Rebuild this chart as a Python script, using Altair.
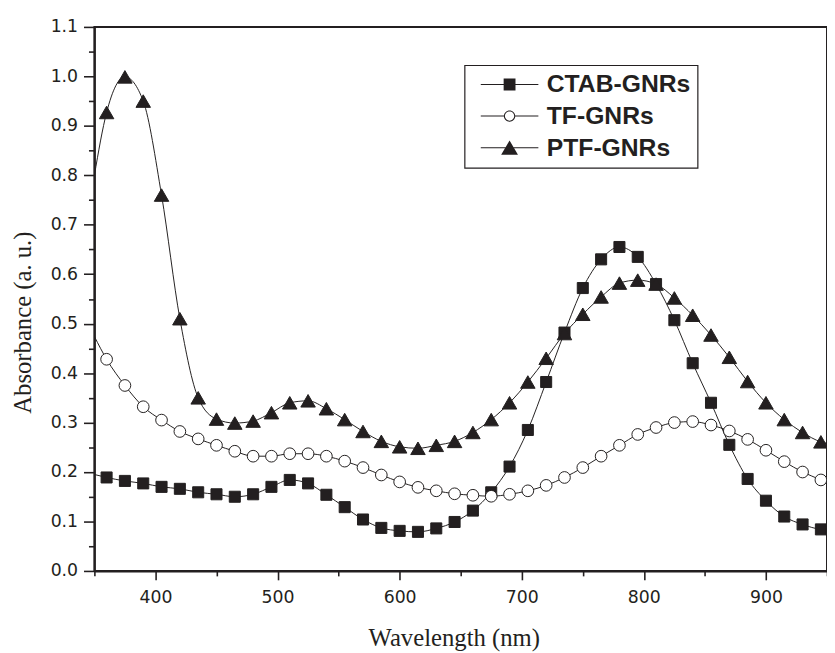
import altair as alt
import pandas as pd

INK = "#231f20"

series_names = ["CTAB-GNRs", "TF-GNRs", "PTF-GNRs"]

wavelength = [360, 375, 390, 405, 420, 435, 450, 465, 480, 495,
              510, 525, 540, 555, 570, 585, 600, 615, 630, 645,
              660, 675, 690, 705, 720, 735, 750, 765, 780, 795,
              810, 825, 840, 855, 870, 885, 900, 915, 930, 945]

ctab = [0.189, 0.182, 0.177, 0.170, 0.166, 0.159, 0.155, 0.150, 0.155, 0.170,
        0.184, 0.177, 0.154, 0.129, 0.104, 0.087, 0.081, 0.079, 0.086, 0.099,
        0.122, 0.159, 0.211, 0.285, 0.382, 0.482, 0.572, 0.630, 0.655, 0.635,
        0.580, 0.507, 0.420, 0.340, 0.255, 0.186, 0.142, 0.110, 0.094, 0.084]

tf = [0.428, 0.375, 0.332, 0.305, 0.282, 0.267, 0.254, 0.242, 0.232, 0.232,
      0.237, 0.237, 0.232, 0.222, 0.209, 0.194, 0.180, 0.169, 0.162, 0.156,
      0.153, 0.151, 0.155, 0.162, 0.173, 0.189, 0.209, 0.232, 0.254, 0.276,
      0.290, 0.300, 0.302, 0.295, 0.283, 0.266, 0.244, 0.221, 0.200, 0.184]

ptf = [0.927, 0.999, 0.950, 0.760, 0.510, 0.350, 0.307, 0.299, 0.303, 0.320,
       0.340, 0.344, 0.328, 0.306, 0.282, 0.262, 0.251, 0.248, 0.254, 0.262,
       0.280, 0.306, 0.340, 0.382, 0.430, 0.480, 0.519, 0.554, 0.582, 0.588,
       0.580, 0.552, 0.517, 0.477, 0.432, 0.383, 0.340, 0.306, 0.280, 0.261]

# curve ends at the axis limits (no marker there)
curve_ends_x = [350, 950]
ctab_ends = [0.195, 0.083]
tf_ends = [0.474, 0.178]
ptf_ends = [0.800, 0.258]

x_major = [400, 500, 600, 700, 800, 900]
x_minor = [350, 450, 550, 650, 750, 850, 950]
y_major = [0.0, 0.1, 0.2, 0.3, 0.4, 0.5, 0.6, 0.7, 0.8, 0.9, 1.0, 1.1]
y_minor = [0.05, 0.15, 0.25, 0.35, 0.45, 0.55, 0.65, 0.75, 0.85, 0.95, 1.05]

values_by_series = {"CTAB-GNRs": ctab, "TF-GNRs": tf, "PTF-GNRs": ptf}
ends_by_series = {"CTAB-GNRs": ctab_ends, "TF-GNRs": tf_ends, "PTF-GNRs": ptf_ends}

marker_rows = []
line_rows = []
for name in series_names:
    for w, v in zip(wavelength, values_by_series[name]):
        marker_rows.append({"series": name, "wavelength": w, "absorbance": v})
        line_rows.append({"series": name, "wavelength": w, "absorbance": v})
    for w, v in zip(curve_ends_x, ends_by_series[name]):
        line_rows.append({"series": name, "wavelength": w, "absorbance": v})
marker_df = pd.DataFrame(marker_rows)
line_df = pd.DataFrame(line_rows).sort_values(["series", "wavelength"])

x_scale = alt.Scale(domain=[350, 950], nice=False, zero=False)
y_scale = alt.Scale(domain=[0, 1.1], nice=False, zero=False)

TICK_FONT = "DejaVu Sans"
TICK_SIZE = 17.5
TITLE_SIZE = 25

x_major_axis = alt.Axis(
    orient="bottom", values=x_major, tickSize=9, tickWidth=1.6, tickColor=INK,
    domainColor=INK, domainWidth=2, labelFont=TICK_FONT, labelFontSize=TICK_SIZE,
    labelColor=INK, labelPadding=9, grid=False, zindex=1,
    title="Wavelength (nm)", titleFont="Liberation Serif", titleFontSize=TITLE_SIZE,
    titleFontWeight="normal", titleColor=INK, titleX=364, titleY=76,
    titleBaseline="alphabetic", titleAlign="center",
)
y_major_axis = alt.Axis(
    orient="left", values=y_major, format=".1f", tickSize=11, tickWidth=1.6,
    tickColor=INK, domainColor=INK, domainWidth=2, labelFont=TICK_FONT,
    labelFontSize=TICK_SIZE, labelColor=INK, labelPadding=6, grid=False, zindex=1,
    title="Absorbance (a. u.)", titleFont="Liberation Serif", titleFontSize=TITLE_SIZE,
    titleFontWeight="normal", titleColor=INK, titleAngle=270, titleX=-64.5,
    titleY=299, titleBaseline="alphabetic", titleAlign="center",
)
x_minor_axis = alt.Axis(
    orient="bottom", values=x_minor, tickSize=5, tickWidth=1.6, tickColor=INK,
    domain=False, labels=False, title=None, grid=False, zindex=1,
)
y_minor_axis = alt.Axis(
    orient="left", values=y_minor, tickSize=6, tickWidth=1.6, tickColor=INK,
    domain=False, labels=False, title=None, grid=False, zindex=1,
)

lines = alt.Chart(line_df).mark_line(
    interpolate="monotone", color=INK, strokeWidth=1, clip=True
).encode(
    x=alt.X("wavelength:Q", scale=x_scale, axis=x_major_axis),
    y=alt.Y("absorbance:Q", scale=y_scale, axis=y_major_axis),
    detail="series:N",
)

marker_style = {
    "CTAB-GNRs": ("square", INK, 125),
    "TF-GNRs": ("circle", "white", 140),
    "PTF-GNRs": ("triangle-up", INK, 215),
}

point_layers = []
for i, name in enumerate(series_names):
    shape, fill, size = marker_style[name]
    if i == 0:
        xa, ya = x_minor_axis, y_minor_axis
    else:
        xa, ya = None, None
    layer = alt.Chart(marker_df).transform_filter(
        alt.datum.series == name
    ).mark_point(
        shape=shape, filled=True, fill=fill, stroke=INK, strokeWidth=1,
        size=size, opacity=1, clip=True
    ).encode(
        x=alt.X("wavelength:Q", scale=x_scale, axis=xa),
        y=alt.Y("absorbance:Q", scale=y_scale, axis=ya),
    )
    point_layers.append(layer)

# legend symbols: a line with the marker on it, all as filled paths
# (12 px per unit; the open circle is a ring)
legend_paths = [
    "M-2.43,-0.045H2.43V0.045H-2.43Z M-0.5,-0.5H0.5V0.5H-0.5Z",
    "M-2.43,-0.045H-0.46V0.045H-2.43Z M0.46,-0.045H2.43V0.045H0.46Z "
    "M0.48,0A0.48,0.48,0,1,1,-0.48,0A0.48,0.48,0,1,1,0.48,0Z "
    "M0.39,0A0.39,0.39,0,1,0,-0.39,0A0.39,0.39,0,1,0,0.39,0Z",
    "M-2.43,-0.045H2.43V0.045H-2.43Z M0,-0.6L0.71,0.6L-0.71,0.6Z",
]

leg = alt.Legend(
    orient="none", legendX=374.9, legendY=38.8, title=None, padding=7,
    strokeColor=INK, fillColor="white",
    labelFont="Liberation Sans", labelFontWeight="bold", labelFontSize=25,
    labelColor=INK, labelLimit=400, symbolSize=576, symbolOffset=26.1,
    labelOffset=25.2, rowPadding=6, symbolStrokeWidth=0,
)

legend_layer = alt.Chart(marker_df).transform_filter("false").mark_point(
    filled=True, color=INK, opacity=1
).encode(
    shape=alt.Shape("series:N", scale=alt.Scale(domain=series_names, range=legend_paths), legend=leg),
)

chart = alt.layer(lines, *point_layers, legend_layer).resolve_axis(
    x="independent", y="independent"
).properties(
    width=742, height=551,
    autosize=alt.AutoSizeParams(type="none"),
    padding={"left": 87.5, "top": 15, "right": 0, "bottom": 82},
    background="white",
).configure_view(stroke=INK, strokeWidth=2).configure_legend(strokeWidth=1.2)

chart.save("out.html", embed_options={"renderer": "svg", "actions": False})
